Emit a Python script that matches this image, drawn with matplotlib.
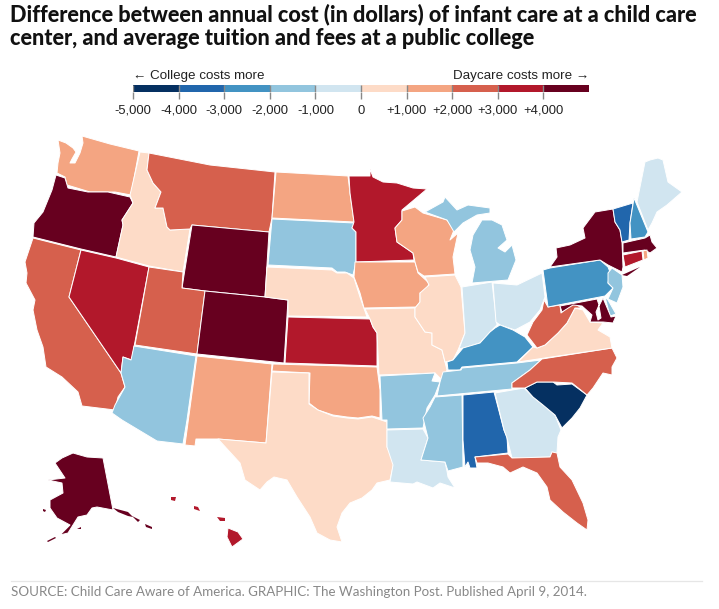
import numpy as np
from matplotlib import pyplot as plt
from matplotlib.colors import BoundaryNorm, ListedColormap
from matplotlib.patches import Polygon

WA = [[(58,140),(66,143),(73,148),(76,152),(72,159),(70,163),(75,163),(80,153),(83,143),(82,136),(110,144),(139,151),(131,195),(115,192),(90,192),(77,188),(67,185),(65,177),(57,173),(58,163),(60,153)]]
OR = [[(56,175),(65,178),(68,188),(88,192),(108,192),(130,197),(133,203),(122,220),(123,225),(116,257),(81,249),(33,237),(34,223),(43,212),(52,190)]]
CA = [[(33,238),(81,250),(69,297),(121,373),(125,387),(118,397),(115,410),(82,406),(78,392),(62,377),(46,367),(43,347),(37,330),(33,310),(35,300),(26,283),(27,273),(25,262)]]
NV = [[(81,250),(116,258),(149,267),(134,347),(132,360),(123,357),(121,373),(69,297)]]
ID = [[(140,152),(149,153),(147,170),(153,183),(161,192),(155,208),(163,208),(167,227),(170,230),(190,229),(183,272),(149,266),(116,257),(123,225),(122,220),(133,203),(130,195)]]
MT = [[(149,153),(210,165),(275,172),(272,218),(269,232),(192,225),(190,229),(170,230),(167,227),(163,208),(155,208),(161,192),(153,183),(147,170)]]
WY = [[(192,225),(269,232),(265,297),(205,291),(182,288)]]
UT = [[(149,267),(183,272),(182,288),(205,291),(197,354),(135,345)]]
AZ = [[(134,346),(196,356),(187,420),(183,444),(157,441),(122,420),(112,413),(115,405),(125,387),(121,373),(123,357),(131,360)]]
CO = [[(205,291),(265,297),(288,300),(284,363),(197,354)]]
NM = [[(197,356),(272,364),(266,443),(218,439),(196,439),(195,446),(185,445)]]
ND = [[(276,172),(348,176),(350,193),(354,222),(272,218)]]
SD = [[(272,219),(354,223),(352,228),(356,232),(356,262),(353,275),(345,272),(337,272),(332,268),(268,265)]]
NE = [[(267,267),(332,270),(337,273),(347,273),(354,278),(360,297),(367,317),(288,316),(288,300),(265,297)]]
KS = [[(288,317),(370,319),(373,327),(377,333),(377,366),(285,363)]]
OK = [[(273,364),(377,367),(380,390),(380,418),(372,416),(358,418),(347,417),(333,415),(318,410),(309,403),(310,373),(272,371)]]
TX = [[(272,372),(309,373),(309,404),(318,410),(333,416),(347,418),(358,419),(372,417),(387,422),(387,447),(394,462),(390,480),(377,483),(372,490),(362,498),(350,503),(342,513),(337,527),(342,542),(330,540),(317,533),(310,517),(297,497),(287,480),(274,477),(267,482),(260,490),(245,480),(240,463),(218,439),(266,443)]]
MN = [[(349,176),(370,176),(370,169),(373,177),(383,182),(397,183),(413,188),(427,189),(402,210),(402,220),(395,228),(397,242),(413,253),(414,260),(356,262),(356,232),(352,228),(354,222),(350,193)]]
IA = [[(355,262),(415,262),(418,273),(429,283),(427,290),(420,293),(420,302),(416,307),(364,308),(360,293),(354,277)]]
MO = [[(365,309),(415,308),(415,317),(425,332),(432,333),(432,345),(442,350),(445,362),(447,370),(442,380),(435,373),(379,375),(377,333),(373,327),(370,319)]]
AR = [[(380,376),(435,373),(432,381),(440,382),(435,395),(427,408),(423,428),(387,429),(387,420),(382,420)]]
LA = [[(387,430),(423,429),(428,438),(421,460),(445,462),(447,471),(448,477),(455,488),(440,483),(433,488),(417,482),(413,484),(390,482),(393,465),(387,447)]]
WI = [[(402,211),(415,207),(423,213),(447,220),(454,230),(450,240),(458,233),(453,257),(455,274),(424,276),(418,272),(415,262),(413,253),(397,242),(395,228),(402,220)]]
IL = [[(425,277),(455,275),(461,287),(465,333),(458,350),(453,360),(445,362),(442,350),(432,345),(432,333),(425,332),(415,317),(415,308),(420,302),(420,293),(429,285)]]
MI = [[(472,283),(475,267),(470,250),(473,235),(482,220),(492,220),(502,225),(507,240),(498,248),(505,252),(512,245),(516,260),(508,280)],
      [(425,212),(443,202),(445,197),(457,210),(468,205),(490,208),(490,213),(477,215),(463,223),(454,232),(447,220)]]
IN = [[(462,287),(492,282),(497,325),(490,332),(480,343),(467,347),(459,349),(465,333)]]
OH = [[(493,283),(517,285),(542,273),(545,297),(540,310),(530,322),(515,330),(500,325),(496,322)]]
KY = [[(447,362),(448,370),(460,370),(462,367),(517,362),(533,347),(525,337),(513,330),(500,325),(495,328),(490,332),(480,343),(463,348),(453,360)]]
TN = [[(443,372),(461,370),(462,368),(517,363),(541,360),(530,370),(512,383),(512,389),(437,396),(440,382)]]
MS = [[(435,397),(462,395),(463,467),(448,471),(445,462),(421,460),(428,438),(423,418),(430,407)]]
AL = [[(463,395),(494,392),(504,430),(507,437),(508,453),(475,457),(477,468),(470,468),(468,462),(465,467),(463,440)]]
GA = [[(495,393),(524,388),(533,397),(543,405),(555,415),(561,430),(558,437),(557,453),(552,452),(550,457),(512,458),(507,438),(504,430)]]
FL = [[(475,457),(508,454),(512,458),(550,457),(552,452),(557,453),(560,467),(572,480),(583,503),(588,520),(587,530),(577,523),(563,512),(550,500),(547,487),(537,473),(523,467),(510,473),(503,467),(488,463),(477,463)]]
SC = [[(525,388),(537,382),(553,382),(557,385),(572,384),(587,395),(580,408),(572,418),(562,428),(555,415),(543,405),(533,397)]]
NC = [[(542,359),(612,348),(617,358),(612,367),(612,375),(603,373),(593,388),(587,395),(572,383),(553,382),(537,382),(525,388),(512,388),(512,383),(530,370)]]
VA = [[(518,362),(533,347),(537,348),(545,345),(558,333),(567,323),(575,308),(583,310),(590,322),(603,323),(598,330),(610,337),(612,348)]]
WV = [[(544,300),(548,307),(560,305),(561,313),(573,303),(582,308),(575,308),(567,323),(558,333),(545,345),(537,348),(527,335),(533,322),(542,310)]]
PA = [[(543,270),(550,268),(600,260),(608,267),(610,272),(608,283),(613,288),(605,296),(548,307)]]
NY = [[(550,267),(557,257),(556,248),(570,245),(585,238),(583,228),(595,212),(613,209),(615,222),(620,230),(622,242),(623,267),(622,272),(608,265),(600,260)],
      [(622,275),(640,267),(627,276)]]
NJ = [[(608,273),(612,268),(622,275),(623,287),(617,303),(608,299),(613,288),(608,283)]]
DE = [[(605,297),(608,300),(616,314),(610,316)]]
MD = [[(560,306),(597,299),(599,305),(596,312),(598,320),(601,318),(599,306),(603,298),(611,317),(616,316),(613,323),(603,322),(590,322),(592,315),(582,306),(573,305),(562,312)]]
VT = [[(613,209),(633,203),(630,223),(629,240),(622,242),(620,230),(615,222)]]
NH = [[(634,198),(648,232),(645,237),(631,239),(630,223)]]
ME = [[(637,202),(645,162),(650,160),(658,158),(663,160),(668,182),(682,192),(667,205),(657,212),(652,223),(648,230)]]
MA = [[(623,243),(645,238),(650,235),(652,242),(657,248),(650,253),(645,250),(623,253)]]
CT = [[(623,255),(642,251),(643,260),(625,267)]]
RI = [[(643,251),(647,250),(648,258),(644,260)]]
AK = [[(103,458),(113,510),(97,507),(92,508),(87,515),(78,517),(68,533),(60,535),(70,525),(57,518),(50,508),(50,500),(63,493),(62,483),(48,480),(65,478),(55,463),(62,458),(73,453),(87,457)],
      [(113,508),(128,512),(133,517),(128,516),(118,512)],
      [(132,516),(140,520),(138,522)],[(145,524),(152,527),(152,529),(146,527)],
      [(43,509),(46,510),(45,512),(43,511)],[(47,541),(55,537),(56,538),(48,542)],[(77,529),(81,527),(81,529)]]
HI = [[(228,528),(238,532),(243,539),(232,547),(227,537)],[(217,517),(225,518),(225,521),(220,521)],
      [(194,506),(198,507),(200,511),(194,509)],[(171,497),(176,497),(175,501),(171,500)]]

states = ["WA","OR","CA","NV","ID","MT","WY","UT","AZ","CO","NM","ND","SD","NE","KS","OK","TX",
          "MN","IA","MO","AR","LA","WI","IL","MI","IN","OH","KY","TN","MS","AL","GA","FL","SC",
          "NC","VA","WV","PA","NY","NJ","DE","MD","VT","NH","ME","MA","CT","RI","AK","HI"]
shapes = [WA,OR,CA,NV,ID,MT,WY,UT,AZ,CO,NM,ND,SD,NE,KS,OK,TX,
          MN,IA,MO,AR,LA,WI,IL,MI,IN,OH,KY,TN,MS,AL,GA,FL,SC,
          NC,VA,WV,PA,NY,NJ,DE,MD,VT,NH,ME,MA,CT,RI,AK,HI]
# only the colour band can be read, so each value is the middle of its band
diff = [1500,4500,2500,3500,500,2500,4500,2500,-1500,4500,1500,1500,-1500,500,3500,1500,500,
        3500,1500,500,-1500,-500,1500,500,-1500,-500,-500,-2500,-1500,-1500,-3500,-500,2500,-4500,
        2500,500,2500,-2500,4500,-1500,-1500,4500,-3500,-2500,-500,4500,3500,1500,4500,3500]

bins = [-5000,-4000,-3000,-2000,-1000,0,1000,2000,3000,4000,5000]
colors = ["#053061","#2166ac","#4393c3","#92c5de","#d1e5f0","#fddbc7","#f4a582","#d6604d","#b2182b","#67001f"]
tick_vals = [-5000,-4000,-3000,-2000,-1000,0,1000,2000,3000,4000]
tick_labels = ["-5,000","-4,000","-3,000","-2,000","-1,000","0","+1,000","+2,000","+3,000","+4,000"]

W, H = 719, 609
cmap = ListedColormap(colors)
norm = BoundaryNorm(bins, cmap.N)
sans = ["Liberation Sans", "DejaVu Sans"]

def ring_area(ring):
    x, y = np.array(ring).T
    return 0.5*abs(np.dot(x, np.roll(y, 1)) - np.dot(y, np.roll(x, 1)))

fig = plt.figure(figsize=(W/100, H/100), dpi=100)
ax = fig.add_axes([0, 0, 1, 1])
ax.set_xlim(0, W)
ax.set_ylim(H, 0)
ax.axis("off")

for name, rings, d in zip(states, shapes, diff):
    for i, ring in enumerate(rings):
        # a white edge would eat the small islands
        edge = "none" if i > 0 and ring_area(ring) < 100 else "white"
        ax.add_patch(Polygon(ring, closed=True, facecolor=cmap(norm(d)), edgecolor=edge, lw=0.7, joinstyle="round"))

ax.text(10, 21, "Difference between annual cost (in dollars) of infant care at a child care", family="Lato", weight="black", fontsize=15.6, color="#111111")
ax.text(10, 45, "center, and average tuition and fees at a public college", family="Lato", weight="black", fontsize=15.6, color="#111111")
ax.text(133, 79, "\u2190 College costs more", family=sans, fontsize=9.6, color="#222222")
ax.text(589, 79, "Daycare costs more \u2192", family=sans, fontsize=9.6, color="#222222", ha="right")
ax.plot([11, 702], [581, 581], color="#e6e6e6", lw=0.9)
ax.text(11, 596, "SOURCE: Child Care Aware of America. GRAPHIC: The Washington Post. Published April 9, 2014.", family="Lato", fontsize=9.6, color="#888888")

# legend
lax = fig.add_axes([133/W, 1-92/H, (589-133)/W, 7/H])
lax.bar(bins[:-1], [1]*10, width=np.diff(bins), align="edge", color=colors)
lax.vlines(tick_vals, 0, 1, color="#888888", lw=1)
lax.set_xlim(bins[0], bins[-1])
lax.set_ylim(0, 1)
lax.set_yticks([])
lax.set_xticks(tick_vals)
lax.set_xticklabels(tick_labels, family=sans, fontsize=9.4, color="#222222", va="baseline")
lax.tick_params(axis="x", length=5, width=1, color="#888888", pad=10.5)
for s in lax.spines.values():
    s.set_visible(False)

fig.savefig("out.png", dpi=100)
plt.close()
